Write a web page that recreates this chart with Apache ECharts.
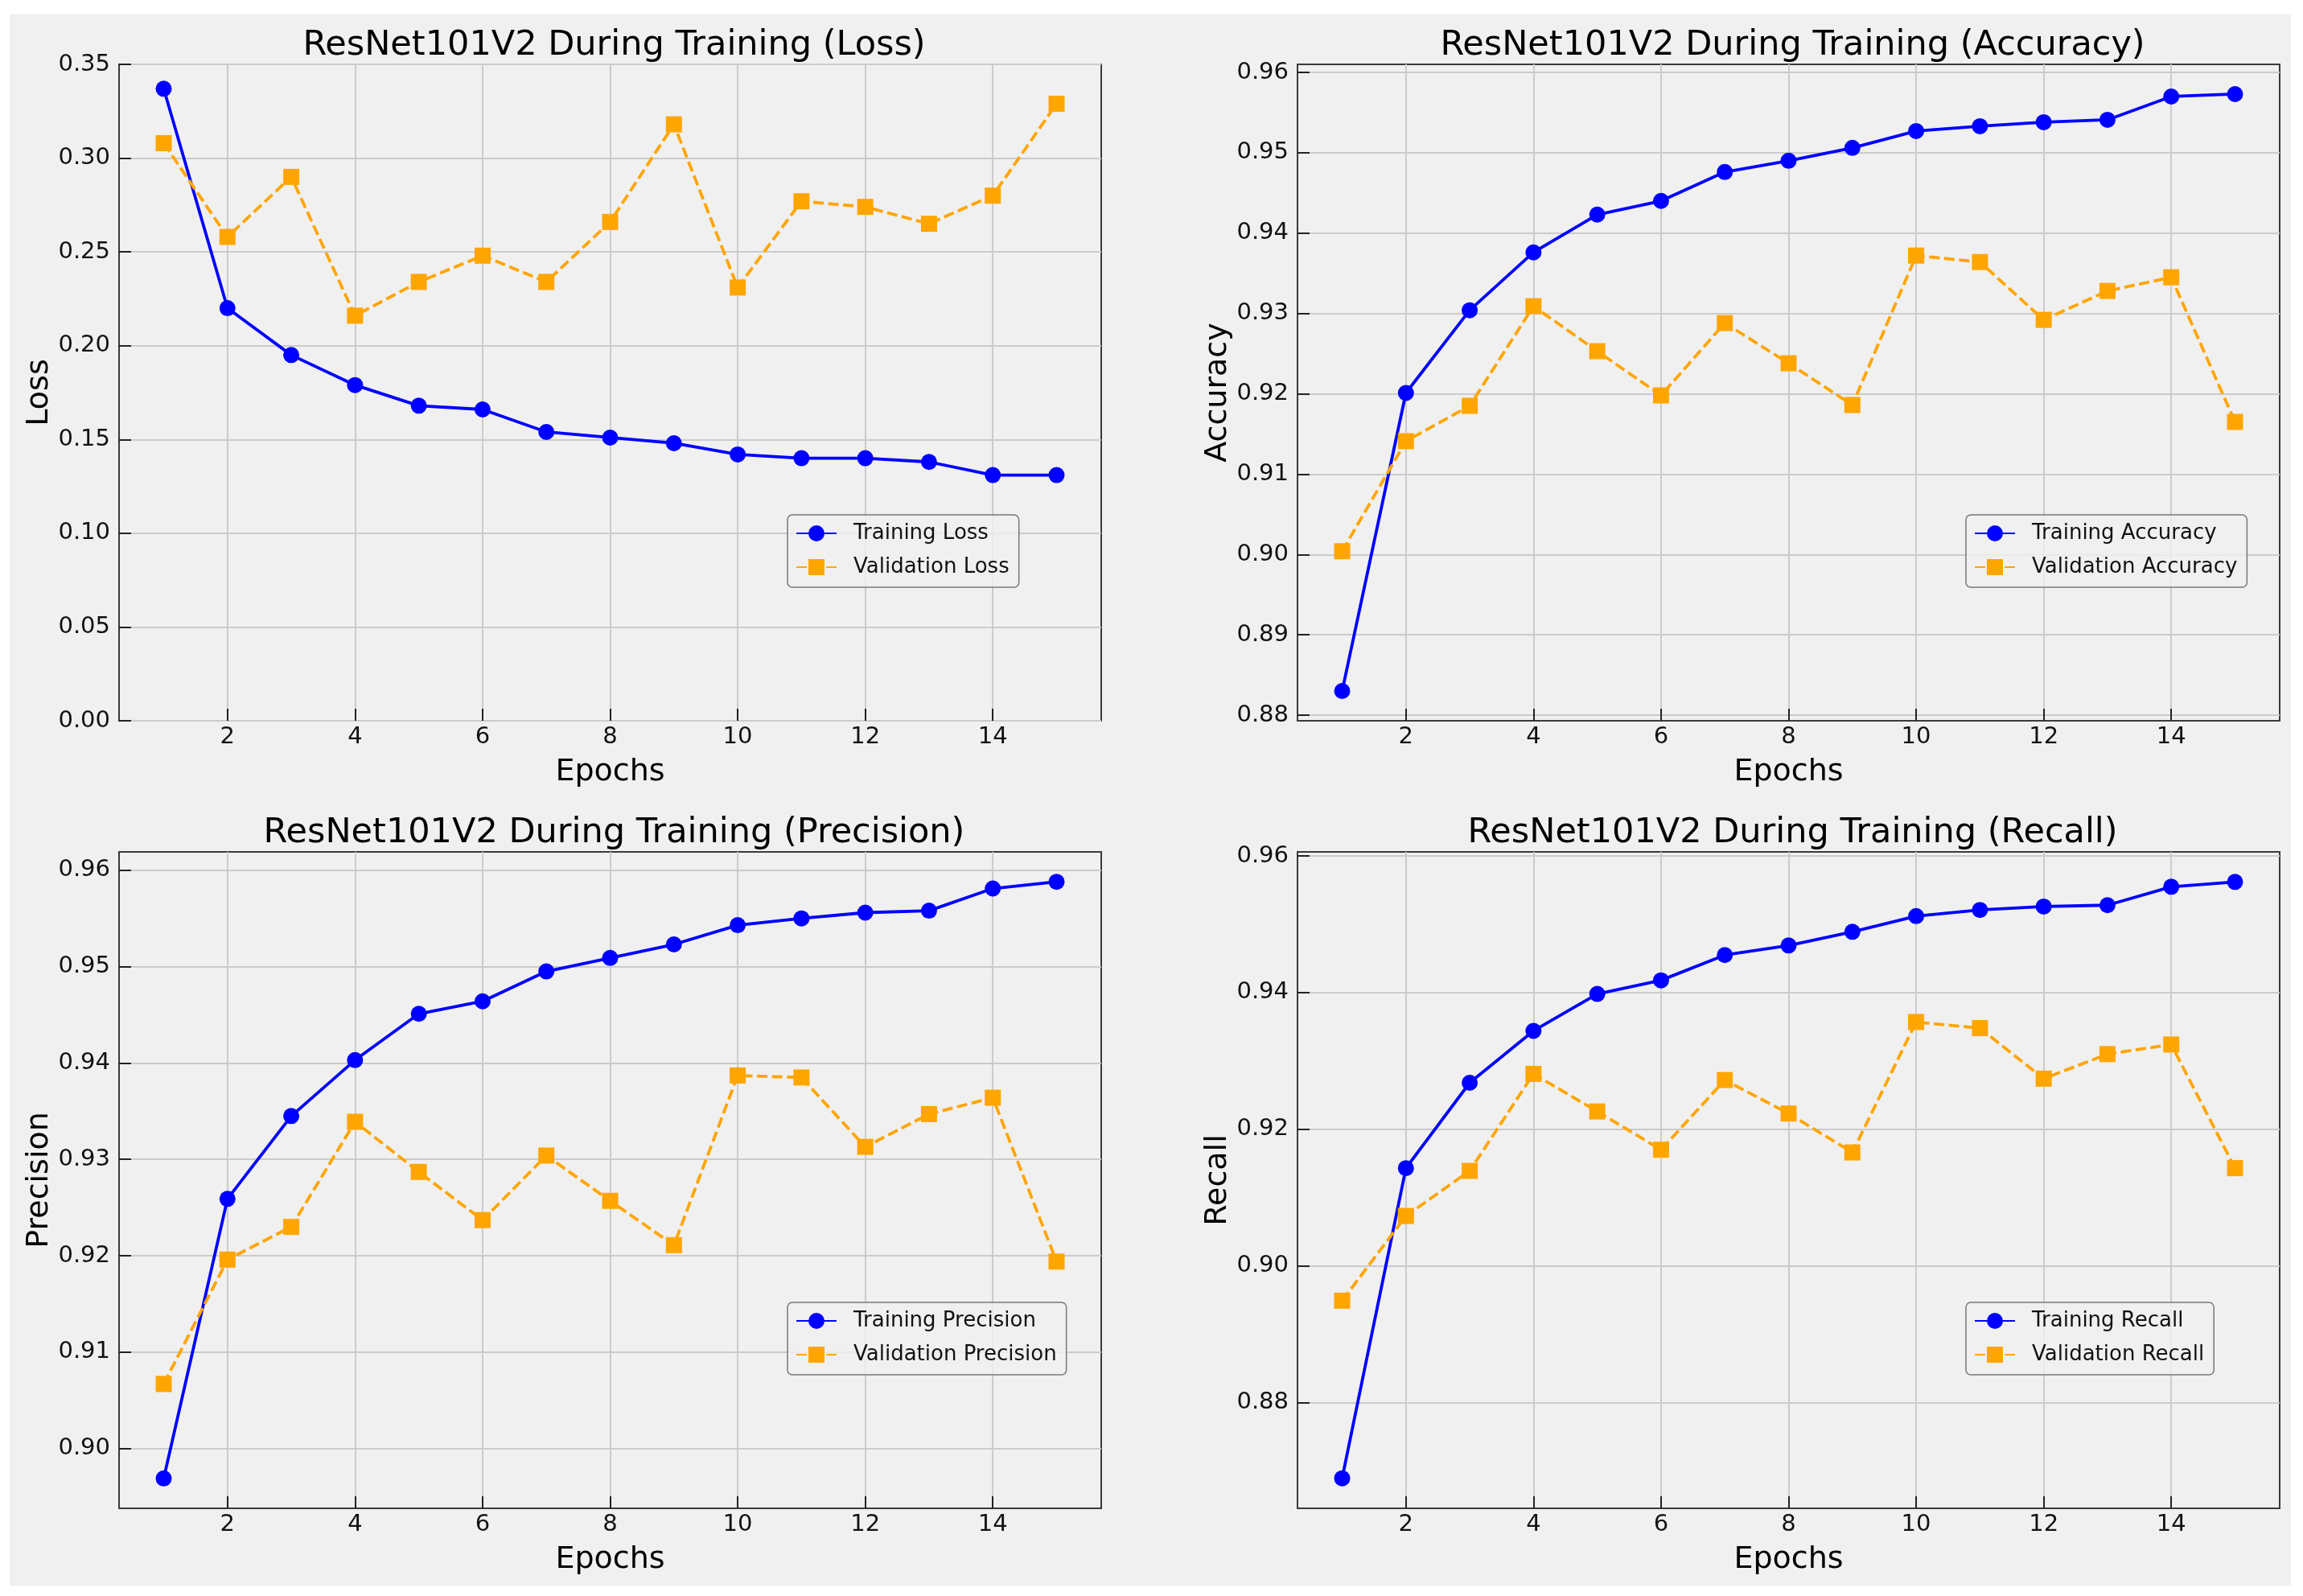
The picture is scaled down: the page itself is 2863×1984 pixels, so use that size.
<!DOCTYPE html>
<html>
<head>
<meta charset="utf-8">
<title>ResNet101V2 During Training</title>
<script src="https://cdn.jsdelivr.net/npm/echarts@6/dist/echarts.min.js"></script>
<style>
html, body { margin: 0; padding: 0; background: #ffffff; }
#bg { position: absolute; left: 12px; top: 18px; width: 2836px; height: 1953px; background: #f0f0f0; }
#main { position: absolute; left: 0; top: 0; width: 2863px; height: 1984px; }
</style>
</head>
<body>
<div id="bg"></div>
<div id="main"></div>
<script>
// data
var epochs = [1, 2, 3, 4, 5, 6, 7, 8, 9, 10, 11, 12, 13, 14, 15];

var trainLoss = [0.337, 0.220, 0.195, 0.179, 0.168, 0.166, 0.154, 0.151, 0.148, 0.142, 0.140, 0.140, 0.138, 0.131, 0.131];
var valLoss   = [0.308, 0.258, 0.290, 0.216, 0.234, 0.248, 0.234, 0.266, 0.318, 0.231, 0.277, 0.274, 0.265, 0.280, 0.329];

var trainAcc = [0.8830, 0.9201, 0.9304, 0.9376, 0.9423, 0.9440, 0.9476, 0.9490, 0.9506, 0.9527, 0.9533, 0.9538, 0.9541, 0.9570, 0.9573];
var valAcc   = [0.9004, 0.9141, 0.9185, 0.9309, 0.9253, 0.9198, 0.9288, 0.9238, 0.9186, 0.9372, 0.9364, 0.9292, 0.9328, 0.9345, 0.9165];

var trainPrec = [0.8969, 0.9259, 0.9345, 0.9403, 0.9451, 0.9464, 0.9495, 0.9509, 0.9523, 0.9543, 0.9550, 0.9556, 0.9558, 0.9581, 0.9588];
var valPrec   = [0.9067, 0.9196, 0.9230, 0.9339, 0.9287, 0.9237, 0.9304, 0.9257, 0.9211, 0.9387, 0.9385, 0.9313, 0.9347, 0.9364, 0.9194];

var trainRecall = [0.8689, 0.9143, 0.9268, 0.9344, 0.9398, 0.9418, 0.9455, 0.9469, 0.9489, 0.9512, 0.9521, 0.9526, 0.9528, 0.9555, 0.9562];
var valRecall   = [0.8949, 0.9073, 0.9139, 0.9281, 0.9226, 0.9170, 0.9272, 0.9223, 0.9166, 0.9357, 0.9348, 0.9274, 0.9310, 0.9324, 0.9143];

// tick labels
var epochTicks  = [2, 4, 6, 8, 10, 12, 14];
var lossTicks   = [0.00, 0.05, 0.10, 0.15, 0.20, 0.25, 0.30, 0.35];
var accTicks    = [0.88, 0.89, 0.90, 0.91, 0.92, 0.93, 0.94, 0.95, 0.96];
var precTicks   = [0.90, 0.91, 0.92, 0.93, 0.94, 0.95, 0.96];
var recallTicks = [0.88, 0.90, 0.92, 0.94, 0.96];

var FONT = 'DejaVu Sans';
var BLUE = '#0000ff';
var ORANGE = '#ffa500';

// one entry per subplot
var panels = [
    { name: 'Loss',      train: trainLoss,   val: valLoss,   ticks: lossTicks,   min: 0,      max: 0.35,   left: 148,  top: 80 },
    { name: 'Accuracy',  train: trainAcc,    val: valAcc,    ticks: accTicks,    min: 0.8793, max: 0.9610, left: 1613, top: 80 },
    { name: 'Precision', train: trainPrec,   val: valPrec,   ticks: precTicks,   min: 0.8938, max: 0.9619, left: 148,  top: 1059 },
    { name: 'Recall',    train: trainRecall, val: valRecall, ticks: recallTicks, min: 0.8645, max: 0.9606, left: 1613, top: 1059 }
];
var W = 1221, H = 816;

function pairs(xs, ys) {
    return xs.map(function (x, i) { return [x, ys[i]]; });
}

var option = {
    animation: false,
    textStyle: { fontFamily: FONT },
    title: [], grid: [], xAxis: [], yAxis: [], series: [], legend: []
};

panels.forEach(function (p, i) {
    option.title.push({
        text: 'ResNet101V2 During Training (' + p.name + ')',
        left: p.left + W / 2,
        top: p.top - 50,
        textAlign: 'center',
        textStyle: { fontFamily: FONT, fontSize: 43, fontWeight: 'normal', color: '#000' }
    });
    option.grid.push({
        left: p.left, top: p.top, width: W, height: H,
        show: true, borderColor: '#3a3a3a', borderWidth: 2, backgroundColor: 'transparent'
    });
    option.xAxis.push({
        type: 'value', gridIndex: i, min: 0.3, max: 15.7,
        name: 'Epochs', nameLocation: 'middle', nameGap: 45,
        nameTextStyle: { fontFamily: FONT, fontSize: 38, color: '#000' },
        axisLine: { show: false },
        axisTick: { show: true, inside: true, length: 15, customValues: epochTicks, lineStyle: { color: '#222', width: 2 } },
        axisLabel: { customValues: epochTicks, margin: 6, fontFamily: FONT, fontSize: 29, color: '#111' },
        splitLine: { show: true, lineStyle: { color: '#cbcbcb', width: 2 } }
    });
    option.yAxis.push({
        type: 'value', gridIndex: i, min: p.min, max: p.max,
        name: p.name, nameLocation: 'middle', nameGap: 80,
        nameTextStyle: { fontFamily: FONT, fontSize: 38, color: '#000' },
        axisLine: { show: false },
        axisTick: { show: true, inside: true, length: 15, customValues: p.ticks, lineStyle: { color: '#222', width: 2 } },
        axisLabel: {
            customValues: p.ticks, margin: 11, fontFamily: FONT, fontSize: 29, color: '#111',
            formatter: function (v) { return v.toFixed(2); }
        },
        splitLine: { show: true, lineStyle: { color: '#cbcbcb', width: 2 } }
    });
    option.series.push({
        name: 'Training ' + p.name, type: 'line', xAxisIndex: i, yAxisIndex: i,
        data: pairs(epochs, p.train),
        symbol: 'circle', symbolSize: 20, showAllSymbol: true,
        lineStyle: { color: BLUE, width: 3.8 },
        itemStyle: { color: BLUE }
    });
    option.series.push({
        name: 'Validation ' + p.name, type: 'line', xAxisIndex: i, yAxisIndex: i,
        data: pairs(epochs, p.val),
        symbol: 'rect', symbolSize: 20, showAllSymbol: true,
        lineStyle: { color: ORANGE, width: 3.8, type: [13, 5.6] },
        itemStyle: { color: ORANGE }
    });
    option.legend.push({
        data: ['Training ' + p.name, 'Validation ' + p.name],
        orient: 'vertical', left: p.left + 831, top: p.top + 560,
        itemWidth: 50, itemHeight: 25, itemGap: 16,
        padding: [10, 12, 12, 10],
        borderColor: '#777', borderWidth: 1.5, borderRadius: 6,
        backgroundColor: 'rgba(240,240,240,0.8)',
        selectedMode: false,
        textStyle: { fontFamily: FONT, fontSize: 26, color: '#111', lineHeight: 25, padding: [0, 0, 0, 16] }
    });
});

var myChart = echarts.init(document.getElementById('main'));
myChart.setOption(option);
</script>
</body>
</html>
